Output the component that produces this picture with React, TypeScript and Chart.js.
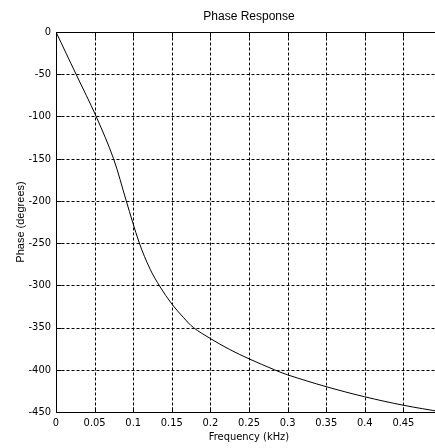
import React, { useEffect, useRef } from 'react';
import { Chart, registerables } from 'chart.js';

Chart.register(...registerables);

// Data
const frequencyKHz = [0, 0.026, 0.052, 0.0745, 0.091, 0.108, 0.122, 0.135, 0.15, 0.165, 0.178, 0.2, 0.225, 0.25, 0.283, 0.3, 0.35, 0.4, 0.45, 0.5];
const phaseDeg = [0, -50, -100, -150, -200, -250, -281, -302, -322, -338, -350, -363, -376, -387, -400, -406, -420, -432, -442, -450];

const xTicks = [0, 0.05, 0.1, 0.15, 0.2, 0.25, 0.3, 0.35, 0.4, 0.45, 0.5];
const xTickLabels = ['0', '0.05', '0.1', '0.15', '0.2', '0.25', '0.3', '0.35', '0.4', '0.45', ''];
const yTicks = [-450, -400, -350, -300, -250, -200, -150, -100, -50, 0];
const yTickLabels = ['-450', '-400', '-350', '-300', '-250', '-200', '-150', '-100', '-50', '0'];

const CHART_TITLE = 'Phase Response';
const X_TITLE = 'Frequency (kHz)';
const Y_TITLE = 'Phase (degrees)';

const NARROW = '"Liberation Sans Narrow", "DejaVu Sans Condensed", "Liberation Sans", Arial, sans-serif';
const REGULAR = '"Liberation Sans", Arial, sans-serif';

const matlabGrid = {
  id: 'matlabGrid',
  beforeDatasetsDraw(chart: any) {
    const { ctx, chartArea: a, scales } = chart;
    const x = scales.x;
    const y = scales.y;
    const L = Math.round(a.left) + 0.5;
    const R = Math.round(a.right) + 0.5;
    const T = Math.round(a.top) + 0.5;
    const B = Math.round(a.bottom) + 0.5;
    const xMin = xTicks[0];
    const xMax = xTicks[xTicks.length - 1];
    const yMin = yTicks[0];
    const yMax = yTicks[yTicks.length - 1];
    ctx.save();
    ctx.strokeStyle = '#000';
    ctx.lineWidth = 1;
    ctx.setLineDash([3, 2]);
    ctx.beginPath();
    xTicks.forEach((v) => {
      if (v === xMin || v === xMax) return;
      const px = Math.round(x.getPixelForValue(v)) + 0.5;
      ctx.moveTo(px, T);
      ctx.lineTo(px, B);
    });
    yTicks.forEach((v) => {
      if (v === yMin || v === yMax) return;
      const py = Math.round(y.getPixelForValue(v)) + 0.5;
      ctx.moveTo(L, py);
      ctx.lineTo(R, py);
    });
    ctx.stroke();
    ctx.setLineDash([]);
    ctx.beginPath();
    xTicks.forEach((v) => {
      const px = Math.round(x.getPixelForValue(v)) + 0.5;
      ctx.moveTo(px, B);
      ctx.lineTo(px, B - 5);
      ctx.moveTo(px, T);
      ctx.lineTo(px, T + 5);
    });
    yTicks.forEach((v) => {
      const py = Math.round(y.getPixelForValue(v)) + 0.5;
      ctx.moveTo(L, py);
      ctx.lineTo(L + 5, py);
      ctx.moveTo(R, py);
      ctx.lineTo(R - 5, py);
    });
    ctx.rect(L, T, R - L, B - T);
    ctx.stroke();
    ctx.restore();
  },
};

export default function App() {
  const canvasRef = useRef<HTMLCanvasElement | null>(null);

  useEffect(() => {
    const canvas = canvasRef.current;
    if (!canvas) return;
    const chart = new Chart(canvas, {
      type: 'line',
      data: {
        datasets: [
          {
            data: frequencyKHz.map((f, i) => ({ x: f, y: phaseDeg[i] })),
            borderColor: '#000',
            borderWidth: 1,
            pointRadius: 0,
            fill: false,
            tension: 0.35,
          },
        ],
      },
      options: {
        responsive: false,
        animation: false,
        devicePixelRatio: 1,
        layout: { padding: { left: 0, right: 52, top: 0, bottom: 0 } },
        plugins: {
          legend: { display: false },
          tooltip: { enabled: false },
          title: {
            display: true,
            text: CHART_TITLE,
            fullSize: false,
            color: '#000',
            font: { family: REGULAR, size: 12, weight: 'normal' },
            padding: { top: 9, bottom: 8.6 },
          },
        },
        scales: {
          x: {
            type: 'linear',
            min: xTicks[0],
            max: xTicks[xTicks.length - 1],
            afterBuildTicks: (s: any) => {
              s.ticks = xTicks.map((v) => ({ value: v }));
            },
            afterFit: (s: any) => {
              s.height = 36;
            },
            grid: { display: false, drawTicks: false },
            border: { display: false },
            ticks: {
              autoSkip: false,
              maxRotation: 0,
              padding: 5,
              color: '#000',
              font: { family: NARROW, size: 11 },
              callback: (_v: any, i: number) => xTickLabels[i],
            },
            title: {
              display: true,
              text: X_TITLE,
              color: '#000',
              font: { family: NARROW, size: 11 },
              padding: { top: 0, bottom: 4.4 },
            },
          },
          y: {
            type: 'linear',
            min: yTicks[0],
            max: yTicks[yTicks.length - 1],
            afterBuildTicks: (s: any) => {
              s.ticks = yTicks.map((v) => ({ value: v }));
            },
            afterFit: (s: any) => {
              s.width = 56;
            },
            grid: { display: false, drawTicks: false },
            border: { display: false },
            ticks: {
              autoSkip: false,
              padding: 5,
              color: '#000',
              font: { family: NARROW, size: 11 },
              callback: (_v: any, i: number) => yTickLabels[i],
            },
            title: {
              display: true,
              text: Y_TITLE,
              color: '#000',
              font: { family: REGULAR, size: 11 },
              padding: { top: 14.4, bottom: 0 },
            },
          },
        },
      },
      plugins: [matlabGrid],
    } as any);
    return () => chart.destroy();
  }, []);

  return (
    <div
      style={{
        position: 'fixed',
        left: 0,
        top: 0,
        width: 435,
        height: 448,
        overflow: 'hidden',
        background: '#fff',
      }}
    >
      <canvas ref={canvasRef} width={494} height={448} style={{ display: 'block', width: 494, height: 448 }} />
    </div>
  );
}
